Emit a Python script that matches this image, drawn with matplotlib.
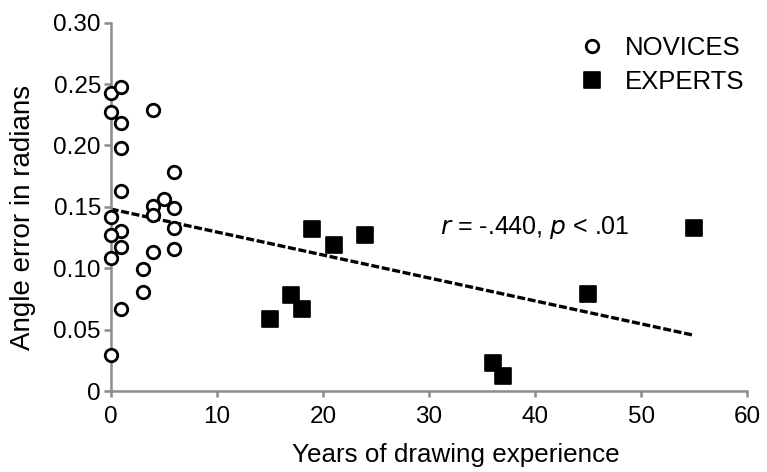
import numpy as np
import matplotlib
matplotlib.use("Agg")
import matplotlib.pyplot as plt
from matplotlib.markers import MarkerStyle

plt.rcParams['font.family'] = ['Liberation Sans', 'DejaVu Sans']

novice_years = [0, 1, 0, 4, 1, 1, 6, 1, 5, 4, 6, 0, 4, 6, 1, 0, 1, 6, 4, 0, 3, 3, 1, 0]
novice_error = [0.243, 0.248, 0.227, 0.229, 0.218, 0.198, 0.178, 0.163, 0.156, 0.151,
                0.149, 0.142, 0.143, 0.133, 0.130, 0.127, 0.117, 0.116, 0.113, 0.108,
                0.099, 0.081, 0.067, 0.029]
expert_years = [19, 21, 24, 17, 18, 15, 36, 37, 45, 55]
expert_error = [0.132, 0.119, 0.127, 0.078, 0.067, 0.059, 0.023, 0.012, 0.079, 0.133]

x_ticks = [0, 10, 20, 30, 40, 50, 60]
y_ticks = [0, 0.05, 0.10, 0.15, 0.20, 0.25, 0.30]
y_tick_labels = ['0', '0.05', '0.10', '0.15', '0.20', '0.25', '0.30']

all_x = np.array(novice_years + expert_years, dtype=float)
all_y = np.array(novice_error + expert_error, dtype=float)
slope, intercept = np.polyfit(all_x, all_y, 1)

fig = plt.figure(figsize=(7.67, 4.72), dpi=100)
ax = fig.add_axes([110.7/767, 1 - 391/472, (747.3-110.7)/767, (391-22.7)/472])

gray = '#8c8c8c'
ax.set_xlim(0, 60)
ax.set_ylim(0, 0.30)
for s in ['top', 'right']:
    ax.spines[s].set_visible(False)
for s in ['left', 'bottom']:
    ax.spines[s].set_color(gray)
    ax.spines[s].set_linewidth(1.8)

ax.set_xticks(x_ticks)
ax.set_yticks(y_ticks)
ax.set_yticklabels(y_tick_labels)
ax.tick_params(axis='both', colors=gray, labelcolor='black', width=1.8, labelsize=17.5,
               direction='out')
ax.tick_params(axis='y', length=5, pad=2)
ax.tick_params(axis='x', length=4.5, pad=6)

lx = np.array([0, 55])
ax.plot(lx, intercept + slope * lx, color='black', lw=2.4, dashes=(2.4, 0.8), zorder=2)

ax.plot(novice_years, novice_error, linestyle='none', marker='o', ms=9,
        mfc='white', mec='black', mew=2.0, clip_on=False, zorder=3, label='NOVICES')
sq = MarkerStyle('s', joinstyle='round')
ax.plot(expert_years, expert_error, linestyle='none', marker=sq, ms=11,
        mfc='black', mec='black', mew=1.2, clip_on=False, zorder=3, label='EXPERTS')

ax.text(31.0, 0.1335, r'$\it{r}$ = -.440, $\it{p}$ < .01', fontsize=18, ha='left', va='center')

ax.legend(loc='upper left', bbox_to_anchor=(0.737, 0.964), frameon=False, fontsize=18.5,
          borderpad=0, borderaxespad=0, handlelength=0.92, handletextpad=0.85,
          labelspacing=0.39)

ax.set_xlabel('Years of drawing experience', fontsize=18.7)
ax.xaxis.set_label_coords(0.542, -0.141)
ax.set_ylabel('Angle error in radians', fontsize=20)
ax.yaxis.set_label_coords(-0.117, 0.472)

fig.savefig('out.png', dpi=100)
